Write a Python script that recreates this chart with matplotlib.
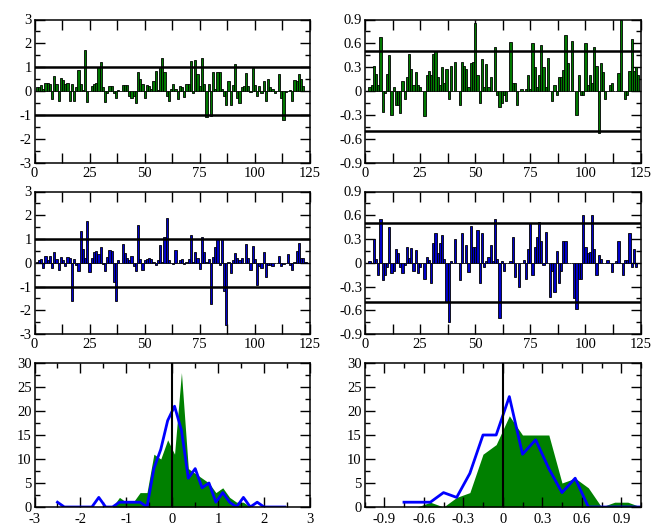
import matplotlib
matplotlib.use('Agg')
import matplotlib.pyplot as plt
from matplotlib.ticker import FixedLocator, MultipleLocator

plt.rcParams['font.family'] = ['Liberation Serif', 'DejaVu Serif']
plt.rcParams['font.size'] = 10.5
plt.rcParams['axes.unicode_minus'] = False

# ---------------- data ----------------
tl_vals = [0.15, 0.15, 0.25, 0.1, 0.35, 0.35, 0.3, -0.35, 0.65, 0.3,
           -0.4, 0.55, 0.45, 0.3, 0.35, -0.4, 0.3, -0.4, 0.15, 0.9,
           0.3, 0.05, 1.7, -0.45, 0.0, 0.2, 0.3, 0.35, 1.0, 1.2,
           0.15, -0.45, -0.1, 0.2, 0.2, -0.1, -0.3, 0.05, 0.0, 0.25,
           0.25, 0.25, -0.2, -0.3, -0.2, -0.5, 0.8, 0.5, 0.3, -0.3,
           0.25, 0.2, 0.1, 0.4, 0.85, 0.05, 1.0, 1.4, 0.8, -0.2,
           -0.4, 0.1, 0.3, 0.1, -0.35, 0.2, 0.15, -0.25, 0.3, 0.3,
           1.25, -0.1, 1.3, 0.7, 0.2, 1.4, 0.3, -1.1, 0.3, -1.05,
           0.8, 0.1, 0.8, 0.8, 0.1, -0.2, -0.6, 0.4, -0.6, 0.25,
           1.15, -0.3, -0.5, 0.15, 0.2, 0.75, 0.2, -0.05, 0.95, 0.25,
           -0.2, 0.2, -0.1, 0.4, -0.4, 0.5, 0.15, 0.1, -0.1, 0.0,
           0.7, -0.3, -1.2, -0.05, 0.0, 0.05, -0.4, 0.45, 0.4, 0.7,
           0.5, 0.2]

tr_vals = [0.0, 0.05, 0.08, 0.32, 0.22, 0.08, 0.68, -0.27, -0.02, 0.22,
           0.45, -0.3, 0.05, -0.17, -0.17, -0.28, 0.12, -0.1, 0.17, 0.47,
           0.28, 0.08, 0.24, 0.07, 0.05, 0.0, -0.32, 0.2, 0.25, 0.2,
           0.47, 0.5, 0.18, 0.07, 0.3, 0.1, 0.28, -0.1, 0.32, 0.0,
           0.37, 0.0, -0.17, 0.37, 0.32, 0.28, 0.05, 0.35, 0.37, 0.85,
           0.2, -0.15, 0.4, 0.05, 0.34, 0.05, 0.18, 0.0, 0.55, -0.05,
           -0.2, -0.15, -0.05, -0.12, 0.0, 0.62, 0.1, 0.1, -0.18, 0.0,
           0.03, 0.0, 0.02, 0.2, 0.02, 0.6, 0.3, 0.05, 0.2, 0.58,
           0.3, 0.05, 0.42, 0.0, -0.12, 0.07, -0.05, 0.18, 0.18, 0.27,
           0.7, 0.35, 0.0, 0.63, 0.0, -0.3, 0.2, -0.05, -0.05, 0.6,
           0.07, 0.2, 0.1, 0.55, 0.32, -0.53, 0.35, 0.24, -0.1, 0.0,
           0.08, 0.1, 0.0, 0.0, 0.23, 0.9, 0.0, -0.1, -0.05, 0.25,
           0.65, 0.25, 0.3, 0.2]

ml_vals = [0.05, 0.1, 0.15, -0.2, 0.3, 0.1, 0.3, -0.2, 0.45, 0.15,
           -0.3, 0.25, 0.1, -0.15, 0.25, 0.2, -1.6, 0.15, -0.1, -0.35,
           1.35, 0.6, 0.2, 1.75, -0.4, 0.2, 0.45, 0.5, 0.35, 0.65,
           -0.05, -0.35, 0.25, 0.55, 0.5, -0.8, -1.6, 0.1, 0.0, 0.8,
           0.4, 0.2, 0.1, 0.3, -0.15, -0.35, 1.6, 0.15, -0.3, 0.1,
           0.15, 0.2, 0.15, 0.05, -0.1, 0.1, 0.75, 0.05, 1.1, 1.9,
           0.1, 0.0, -0.05, 0.55, 0.0, 0.1, 0.15, -0.05, 0.05, 0.15,
           1.15, 0.05, 0.45, 0.2, -0.25, 1.1, 0.45, 0.05, 0.15, -1.75,
           0.25, 0.65, 1.0, -0.1, 1.0, -1.2, -2.6, 0.05, -0.45, 0.1,
           0.4, 0.2, 0.1, 0.2, 0.0, 0.8, 0.2, -0.3, 0.7, 0.15,
           -0.95, -0.15, -0.2, 0.45, -0.6, -0.1, -0.1, -0.15, 0.0, 0.0,
           0.3, -0.15, -0.05, 0.0, 0.35, -0.1, -0.3, 0.05, 0.5, 0.85,
           0.2, 0.2, 0.05]

mr_vals = [0.0, 0.02, 0.0, 0.3, 0.05, -0.15, 0.55, -0.22, -0.15, -0.05,
           0.45, -0.13, -0.1, 0.18, 0.12, -0.05, -0.13, -0.03, 0.2, 0.06,
           0.19, -0.1, 0.16, -0.13, -0.05, 0.0, -0.2, 0.07, 0.03, -0.26,
           0.25, 0.38, 0.12, 0.25, 0.35, 0.05, -0.5, -0.75, 0.02, 0.0,
           0.3, 0.0, -0.22, 0.38, 0.0, 0.22, -0.12, 0.47, 0.2, 0.2,
           0.42, -0.25, 0.37, -0.05, 0.02, 0.07, 0.22, 0.02, 0.55, 0.05,
           -0.7, 0.02, -0.1, 0.0, 0.0, 0.02, 0.33, -0.18, 0.0, -0.3,
           0.0, 0.03, -0.2, 0.18, 0.5, -0.15, 0.2, 0.33, 0.52, 0.28,
           -0.03, 0.39, 0.0, -0.43, -0.1, -0.37, 0.15, -0.25, -0.1, 0.28,
           0.27, 0.0, 0.0, 0.0, -0.45, -0.58, -0.2, -0.2, 0.6, 0.2,
           0.12, 0.13, 0.6, 0.17, -0.15, 0.1, 0.05, 0.0, 0.0, 0.03,
           0.0, -0.12, 0.0, 0.02, 0.28, 0.0, -0.15, 0.03, 0.03, 0.38,
           -0.05, 0.18, -0.05]

# histograms (bottom row)
bl_x = [-2.5, -2.35, -2.2, -2.05, -1.9, -1.75, -1.6, -1.45, -1.3, -1.15,
        -1.0, -0.85, -0.7, -0.55, -0.4, -0.25, -0.1, 0.05, 0.2, 0.35,
        0.5, 0.65, 0.8, 0.95, 1.1, 1.25, 1.4, 1.55, 1.7, 1.85,
        2.0, 2.15, 2.3, 2.45]
bl_green = [0, 0, 0, 0, 0, 0, 0, 0, 0, 2,
            1, 1, 3, 3, 11, 10, 14, 11, 28, 8,
            7, 6, 5, 3, 4, 2, 1, 1, 0, 0,
            0, 0, 0, 0]
bl_blue = [1, 0, 0, 0, 0, 0, 2, 0, 0, 1,
           1, 1, 1, 0, 8, 12, 18, 21, 16, 6,
           8, 4, 5, 1, 3, 1, 0, 2, 0, 1,
           0, 0, 0, 0]

br_x = [-0.75, -0.65, -0.55, -0.45, -0.35, -0.25, -0.15, -0.05, 0.05, 0.15,
        0.25, 0.35, 0.45, 0.55, 0.65, 0.75, 0.85, 0.95, 1.05]
br_green = [0, 0, 1, 0, 2, 3, 11, 13, 19, 15,
            15, 15, 5, 6, 4, 0, 1, 1, 0]
br_blue = [1, 1, 1, 3, 2, 7, 15, 15, 23, 11,
           14, 8, 3, 6, 0, 0, 0, 0, 0]

top_xticks = [0, 25, 50, 75, 100, 125]
left_yticks = [-3, -2, -1, 0, 1, 2, 3]
right_yticks = [-0.9, -0.6, -0.3, 0, 0.3, 0.6, 0.9]
right_ylabels = ['-0.9', '-0.6', '-0.3', '0', '0.3', '0.6', '0.9']
hist_yticks = [0, 5, 10, 15, 20, 25, 30]
bl_xticks = [-3, -2, -1, 0, 1, 2, 3]
br_xticks = [-0.9, -0.6, -0.3, 0, 0.3, 0.6, 0.9]
br_xlabels = ['-0.9', '-0.6', '-0.3', '0', '0.3', '0.6', '0.9']

GREEN = '#007800'
BLUE = '#0000c8'

# ---------------- figure ----------------
W, H = 655, 525
fig = plt.figure(figsize=(W / 100, H / 100), dpi=100)


def add_ax(l, t, r, b):
    return fig.add_axes([l / W, 1 - b / H, (r - l) / W, (b - t) / H])


def style(ax, xminor_same=False, xpad=2):
    ax.tick_params(which='both', direction='in', top=True, right=True, width=1)
    ax.tick_params(which='major', length=7, pad=2)
    ax.tick_params(axis='x', which='major', pad=xpad)
    ax.tick_params(which='minor', length=3.5)
    if xminor_same:
        ax.tick_params(axis='x', which='minor', length=7)
    for s in ax.spines.values():
        s.set_linewidth(1.1)


def bar_panel(ax, vals, color, ylim, yticks, ylabels, yminor, hline):
    x = list(range(1, len(vals) + 1))
    ax.bar(x, vals, width=1.0, color=color, edgecolor='black', linewidth=0.6, zorder=2)
    ax.axhline(hline, color='black', lw=1.8, zorder=3)
    ax.axhline(-hline, color='black', lw=1.8, zorder=3)
    ax.set_xlim(0, 125)
    ax.set_ylim(*ylim)
    ax.xaxis.set_major_locator(FixedLocator(top_xticks))
    ax.set_xticklabels([str(t) for t in top_xticks])
    ax.xaxis.set_minor_locator(MultipleLocator(12.5))
    ax.yaxis.set_major_locator(FixedLocator(yticks))
    ax.set_yticklabels(ylabels)
    ax.yaxis.set_minor_locator(MultipleLocator(yminor))
    style(ax, xminor_same=True, xpad=3)


ax1 = add_ax(34.5, 19.5, 310, 162.5)
bar_panel(ax1, tl_vals, GREEN, (-3, 3), left_yticks, [str(t) for t in left_yticks], 0.5, 1.0)
ax2 = add_ax(365, 19.5, 640.5, 162.5)
bar_panel(ax2, tr_vals, GREEN, (-0.9, 0.9), right_yticks, right_ylabels, 0.15, 0.5)
ax3 = add_ax(34.5, 191.5, 310, 334)
bar_panel(ax3, ml_vals, BLUE, (-3, 3), left_yticks, [str(t) for t in left_yticks], 0.5, 1.0)
ax4 = add_ax(365, 191.5, 640.5, 334)
bar_panel(ax4, mr_vals, BLUE, (-0.9, 0.9), right_yticks, right_ylabels, 0.15, 0.5)


def hist_panel(ax, x, g, b, xlim, xticks, xlabels, xminor):
    ax.fill_between(x, 0, g, color='#008000', lw=0, zorder=1)
    ax.plot(x, b, color='#0000ff', lw=2, zorder=2)
    ax.axvline(0, color='black', lw=1.5, zorder=3)
    ax.set_xlim(*xlim)
    ax.set_ylim(0, 30)
    ax.xaxis.set_major_locator(FixedLocator(xticks))
    ax.set_xticklabels(xlabels)
    ax.xaxis.set_minor_locator(MultipleLocator(xminor))
    ax.yaxis.set_major_locator(FixedLocator(hist_yticks))
    ax.set_yticklabels([str(t) for t in hist_yticks])
    ax.yaxis.set_minor_locator(MultipleLocator(2.5))
    style(ax, xpad=4)


ax5 = add_ax(34.5, 363, 310, 507)
hist_panel(ax5, bl_x, bl_green, bl_blue, (-3, 3), bl_xticks, [str(t) for t in bl_xticks], 0.5)
ax6 = add_ax(364.5, 363, 641, 507)
hist_panel(ax6, br_x, br_green, br_blue, (-1.05, 1.05), br_xticks, br_xlabels, 0.15)

fig.savefig('out.png', dpi=100)
